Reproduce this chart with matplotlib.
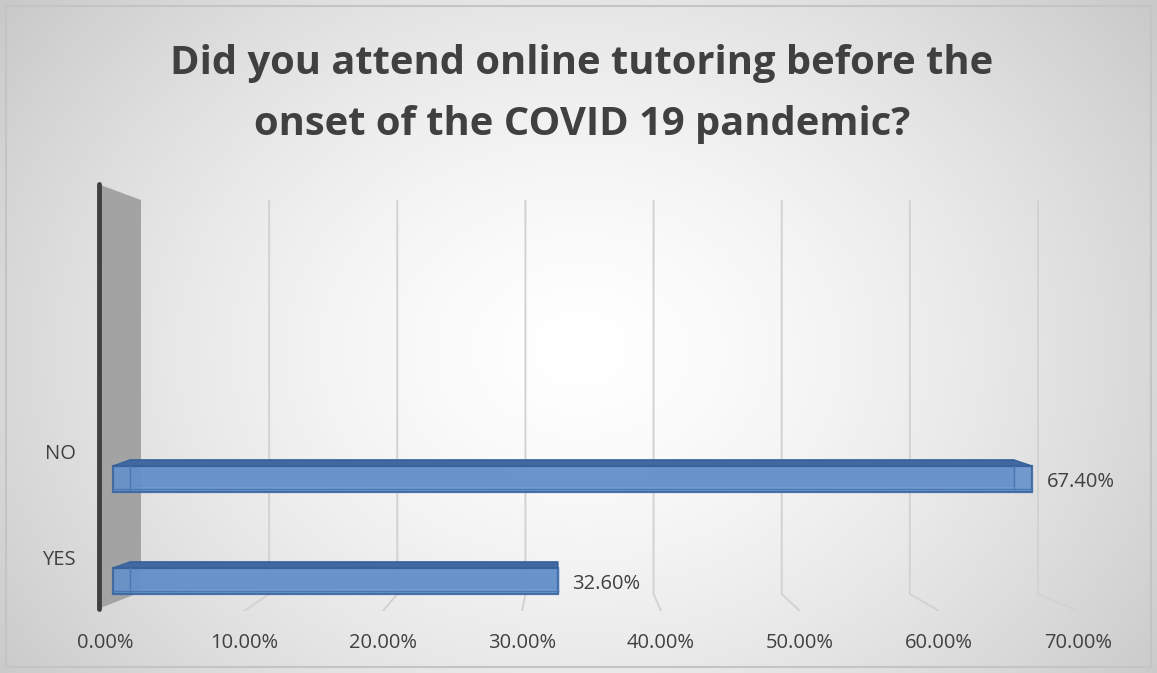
import numpy as np
import matplotlib.pyplot as plt
from matplotlib.patches import Polygon, Rectangle

categories = ["YES", "NO"]
values = [0.326, 0.674]
value_labels = ["32.60%", "67.40%"]
ticks = [0.0, 0.1, 0.2, 0.3, 0.4, 0.5, 0.6, 0.7]
tick_labels = ["0.00%", "10.00%", "20.00%", "30.00%", "40.00%", "50.00%", "60.00%", "70.00%"]
title = "Did you attend online tutoring before the\nonset of the COVID 19 pandemic?"

W, H = 1157, 673
fig = plt.figure(figsize=(W / 100, H / 100), dpi=100)
plt.rcParams['font.family'] = ['Open Sans', 'DejaVu Sans']
txt = '#404040'

# radial gradient background
bg = fig.add_axes([0, 0, 1, 1], zorder=0)
yy, xx = np.mgrid[0:H, 0:W]
r = np.sqrt(((xx - 580) / 620.0) ** 2 + ((yy - 350) / 500.0) ** 2)
shade = 1.0 - 0.17 * r ** 1.5
bg.imshow(np.dstack([shade, shade, shade]), extent=[0, W, H, 0], aspect='auto')
bg.add_patch(Rectangle((6, 6), W - 12, H - 12, fill=False, ec='#c4c4c4', lw=1.5))
# side wall and dark axis line
bg.add_patch(Polygon([(98, 184), (141, 200), (141, 592), (98, 609)], closed=True,
                     fc='#a3a3a3', ec='none'))
bg.plot([99, 99], [184, 609], color='#404040', lw=3.5, solid_capstyle='round')
bg.set_xlim(0, W)
bg.set_ylim(H, 0)
bg.axis('off')

# floor-front axes: tick labels and gridlines
x0, x1 = 105, 1078
ybot, ytop = 611, 200
rect = [x0 / W, 1 - ybot / H, (x1 - x0) / W, (ybot - ytop) / H]
ax = fig.add_axes(rect, zorder=2)
ax.patch.set_alpha(0)
ax.set_xlim(0, 0.7)
ax.set_ylim(0, ybot - ytop)
px = (x1 - x0) / 0.7
back0, back1 = 141, 1038
foot = ybot - 594
for t in ticks[1:]:
    xb = (back0 + t * (back1 - back0) / 0.7 - x0) / px
    ax.plot([xb, xb, t], [ybot - ytop, foot, 0], color='#d2d2d2', lw=1.4, zorder=1)
ax.set_xticks(ticks)
ax.set_xticklabels(tick_labels, fontsize=14.5, color=txt)
ax.set_yticks([])
ax.tick_params(axis='x', length=0, pad=16)
for s in ax.spines.values():
    s.set_visible(False)

# bar axes (mid-depth scale)
axb = fig.add_axes(rect, zorder=3)
axb.patch.set_alpha(0)
bar0 = 113
scale = 1363.5  # px per unit
axb.set_xlim(-(bar0 - x0) / scale, (x1 - bar0) / scale)
axb.set_ylim(-0.294, 3.735)
axb.axis('off')

ypos = np.arange(len(categories))
bh = 0.255
dy = 6 / 102
xv = (560 - bar0) / scale
k = 0.038
for y, v in zip(ypos, values):
    s0 = 0.0
    b0, b1 = s0 + (xv - s0) * k, v + (xv - v) * k
    top = y + bh / 2
    # back face
    axb.add_patch(Polygon([(b0, y - bh / 2 + dy), (b1, y - bh / 2 + dy), (b1, top + dy), (b0, top + dy)],
                          closed=True, fc='#4f81bd', ec='#3a66a0', lw=1.2, alpha=0.6, zorder=3))
    # front face
    axb.barh(y, v, left=s0, height=bh, color='#6591cb', alpha=0.9,
             edgecolor='#3a66a0', linewidth=1.6, zorder=4)
    # top face
    axb.add_patch(Polygon([(s0, top), (v, top), (b1, top + dy), (b0, top + dy)],
                          closed=True, fc='#41699f', ec='#35609a', lw=1.0, zorder=5))
    # inner back edges seen through the bar
    axb.plot([b0, b0], [y - bh / 2 + 0.02, top], color='#4a78b3', lw=1.0, zorder=5)
    axb.plot([b1, b1], [y - bh / 2 + 0.02, top], color='#4a78b3', lw=1.0, zorder=5)
    axb.plot([s0, v], [y - bh / 2 + dy * 0.5, y - bh / 2 + dy * 0.5], color='#4a78b3', lw=1.0, zorder=5)
    axb.text(v + 15 / scale, y - 0.03, value_labels[y], ha='left', va='center',
             fontsize=14.5, color=txt, zorder=6)

for y, c in zip(ypos, categories):
    fig.text(76 / W, 1 - (560 - y * 106) / H, c, ha='right', va='center',
             fontsize=14.5, color=txt)

fig.text(0.503, 1 - 94 / H, title, ha='center', va='center', fontsize=28.7,
         fontweight='bold', color=txt, linespacing=1.72)

fig.savefig('out.png', dpi=100)
